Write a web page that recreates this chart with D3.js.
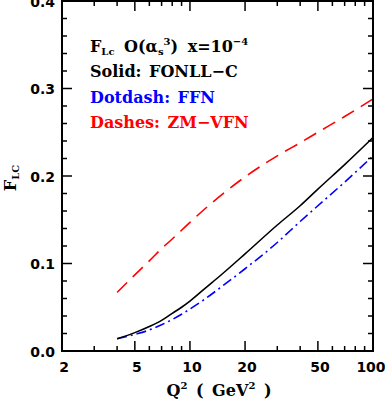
<!DOCTYPE html>
<html>
<head>
<meta charset="utf-8">
<script src="https://cdn.jsdelivr.net/npm/d3@7"></script>
<style>
  body { margin: 0; background: #fff; }
  text { font-family: "DejaVu Serif", serif; }
</style>
</head>
<body>
<div id="chart"></div>
<script>
const q2 = [4, 5, 6, 7, 8, 9, 10, 12, 15, 20, 30, 40, 50, 70, 100];
const fonll = [0.014, 0.021, 0.028, 0.035, 0.043, 0.050, 0.057, 0.071, 0.088, 0.111, 0.144, 0.166, 0.185, 0.213, 0.244];
const ffn = [0.014, 0.019, 0.024, 0.030, 0.036, 0.042, 0.048, 0.059, 0.074, 0.094, 0.124, 0.148, 0.166, 0.193, 0.223];
const zmvfn = [0.067, 0.087, 0.103, 0.117, 0.128, 0.138, 0.147, 0.162, 0.179, 0.199, 0.223, 0.238, 0.250, 0.268, 0.288];

const xMajor = [2, 5, 10, 20, 50, 100];
const xMinor = [3, 4, 6, 7, 8, 9, 30, 40, 60, 70, 80, 90];
const yMajor = [0.0, 0.1, 0.2, 0.3, 0.4];
const yMinor = [0.02, 0.04, 0.06, 0.08, 0.12, 0.14, 0.16, 0.18, 0.22, 0.24, 0.26, 0.28, 0.32, 0.34, 0.36, 0.38];

const margin = { top: 1, right: 12, bottom: 50, left: 62 };
const width = 385 - margin.left - margin.right;
const height = 401 - margin.top - margin.bottom;

const svg = d3.select("#chart").append("svg")
  .attr("width", 385).attr("height", 401);
const g = svg.append("g").attr("transform", `translate(${margin.left},${margin.top})`);

const x = d3.scaleLog().domain([2, 100]).range([0, width]);
const y = d3.scaleLinear().domain([0, 0.4]).range([height, 0]);

// curves
const line = d3.line().x((d, i) => x(q2[i])).y(d => y(d)).curve(d3.curveMonotoneX);
g.append("path").datum(zmvfn).attr("d", line).attr("fill", "none")
  .attr("stroke", "#ff0000").attr("stroke-width", 1.6).attr("stroke-dasharray", "14,8");
g.append("path").datum(ffn).attr("d", line).attr("fill", "none")
  .attr("stroke", "#0000ff").attr("stroke-width", 1.6).attr("stroke-dasharray", "10,4,2,4");
g.append("path").datum(fonll).attr("d", line).attr("fill", "none")
  .attr("stroke", "#000").attr("stroke-width", 1.6);

// inward ticks on all four sides
const tk = (x1, y1, x2, y2) => g.append("line").attr("x1", x1).attr("y1", y1)
  .attr("x2", x2).attr("y2", y2).attr("stroke", "#000").attr("stroke-width", 1.5);
xMajor.forEach(v => { tk(x(v), height, x(v), height - 10); tk(x(v), 0, x(v), 10); });
xMinor.forEach(v => { tk(x(v), height, x(v), height - 5); tk(x(v), 0, x(v), 5); });
yMajor.forEach(v => { tk(0, y(v), 10, y(v)); tk(width, y(v), width - 10, y(v)); });
yMinor.forEach(v => { tk(0, y(v), 5, y(v)); tk(width, y(v), width - 5, y(v)); });

g.append("rect").attr("width", width).attr("height", height)
  .attr("fill", "none").attr("stroke", "#000").attr("stroke-width", 2);

// tick labels
const sans = "'DejaVu Sans', sans-serif";
g.selectAll(".xl").data(xMajor).join("text")
  .attr("x", d => Math.min(x(d) + 2, width - 2)).attr("y", height + 21)
  .attr("text-anchor", "middle").style("font-family", sans)
  .style("font-weight", "bold").style("font-size", "14px").text(d => d);
g.selectAll(".yl").data(yMajor).join("text")
  .attr("x", -7).attr("y", d => y(d) + 5.5)
  .attr("text-anchor", "end").style("font-family", sans)
  .style("font-weight", "bold").style("font-size", "14px").text(d => d.toFixed(1));

// axis titles
const xt = svg.append("text").attr("x", 219).attr("y", 396).attr("text-anchor", "middle")
  .style("font-size", "16px").style("font-weight", "bold").style("word-spacing", "3px");
xt.append("tspan").text("Q");
xt.append("tspan").attr("dy", -7).style("font-size", "10px").text("2");
xt.append("tspan").attr("dy", 7).text(" ( GeV");
xt.append("tspan").attr("dy", -7).style("font-size", "10px").text("2");
xt.append("tspan").attr("dy", 7).text(" )");

const yt = svg.append("text").attr("transform", "translate(16,178) rotate(-90)")
  .attr("text-anchor", "middle").style("font-size", "16px").style("font-weight", "bold");
yt.append("tspan").text("F");
yt.append("tspan").attr("dy", 3).style("font-size", "10px").text("LC");

// legend text
const legendFont = "16px";
const t1 = g.append("text").attr("x", 28).attr("y", 51).style("font-size", legendFont)
  .style("font-weight", "bold").style("word-spacing", "4px");
t1.append("tspan").text("F");
t1.append("tspan").attr("dy", 3).style("font-size", "10px").text("Lc");
t1.append("tspan").attr("dy", -3).text(" O(α");
t1.append("tspan").attr("dy", 3).style("font-size", "10px").text("s");
t1.append("tspan").attr("dy", -10).style("font-size", "10px").text("3");
t1.append("tspan").attr("dy", 7).text(") x=10");
t1.append("tspan").attr("dy", -7).style("font-size", "10px").text("−4");

const legendRows = [
  { y: 76, color: "#000", label: "Solid: FONLL−C" },
  { y: 102, color: "#0000ff", label: "Dotdash: FFN" },
  { y: 127, color: "#ff0000", label: "Dashes: ZM−VFN" }
];
g.selectAll(".lg").data(legendRows).join("text")
  .attr("x", 28).attr("y", d => d.y).attr("fill", d => d.color)
  .style("font-size", legendFont).style("font-weight", "bold").style("word-spacing", "2px")
  .text(d => d.label);
</script>
</body>
</html>
